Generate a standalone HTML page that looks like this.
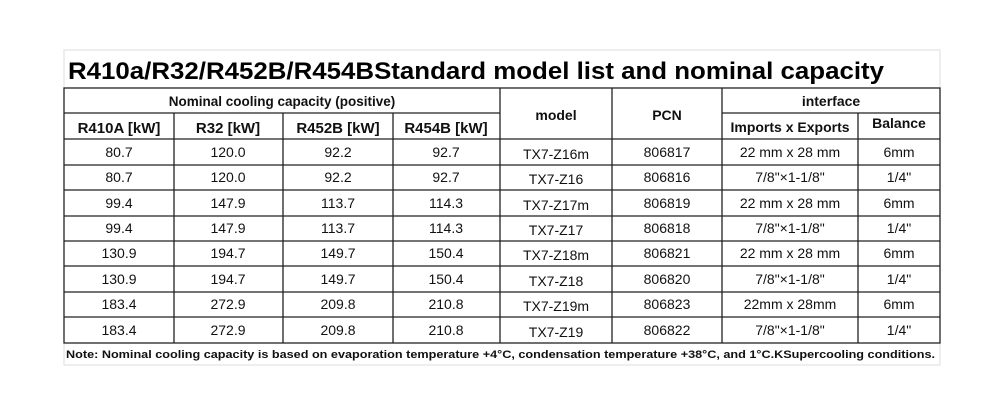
<!DOCTYPE html>
<html><head><style>body{margin:0;background:#fff}svg{display:block}</style></head><body>
<svg width="1000" height="404" xmlns="http://www.w3.org/2000/svg" font-family="Liberation Sans, Arial, sans-serif">
<rect x="64" y="50" width="876" height="315" fill="none" stroke="#ddd" stroke-width="1"/>
<text x="68" y="79" font-size="24" font-weight="bold" textLength="816" lengthAdjust="spacingAndGlyphs">R410a/R32/R452B/R454BStandard model list and nominal capacity</text>
<g stroke="#222" stroke-width="1.3" fill="none">
<rect x="64" y="88" width="876" height="255"/>
<line x1="64" y1="113" x2="500" y2="113"/>
<line x1="722" y1="113" x2="940" y2="113"/>
<line x1="64" y1="139" x2="940" y2="139"/>
<line x1="64" y1="165" x2="940" y2="165"/>
<line x1="64" y1="190" x2="940" y2="190"/>
<line x1="64" y1="216" x2="940" y2="216"/>
<line x1="64" y1="241" x2="940" y2="241"/>
<line x1="64" y1="266" x2="940" y2="266"/>
<line x1="64" y1="292" x2="940" y2="292"/>
<line x1="64" y1="317" x2="940" y2="317"/>
<line x1="174" y1="113" x2="174" y2="343"/>
<line x1="283" y1="113" x2="283" y2="343"/>
<line x1="393" y1="113" x2="393" y2="343"/>
<line x1="500" y1="88" x2="500" y2="343"/>
<line x1="612" y1="88" x2="612" y2="343"/>
<line x1="722" y1="88" x2="722" y2="343"/>
<line x1="858" y1="113" x2="858" y2="343"/>
</g>
<g font-weight="bold" font-size="13.5" text-anchor="middle" fill="#111">
<text x="282" y="106">Nominal cooling capacity (positive)</text>
<text x="119" y="133" font-size="15">R410A [kW]</text>
<text x="228" y="133" font-size="15">R32 [kW]</text>
<text x="338" y="133" font-size="15">R452B [kW]</text>
<text x="446" y="133" font-size="15">R454B [kW]</text>
<text x="556" y="120" font-size="14">model</text>
<text x="667" y="120" font-size="14">PCN</text>
<text x="831" y="106" font-size="14">interface</text>
<text x="790" y="132" font-size="14">Imports x Exports</text>
<text x="899" y="128" font-size="14">Balance</text>
</g>
<g font-size="14" text-anchor="middle" fill="#111">
<g transform="translate(0,157)"><text x="119">80.7</text><text x="228">120.0</text><text x="338">92.2</text><text x="446">92.7</text><text x="556" y="2">TX7-Z16m</text><text x="667">806817</text><text x="790">22 mm x 28 mm</text><text x="899">6mm</text></g>
<g transform="translate(0,182)"><text x="119">80.7</text><text x="228">120.0</text><text x="338">92.2</text><text x="446">92.7</text><text x="556" y="2">TX7-Z16</text><text x="667">806816</text><text x="790">7/8"×1-1/8"</text><text x="899">1/4"</text></g>
<g transform="translate(0,208)"><text x="119">99.4</text><text x="228">147.9</text><text x="338">113.7</text><text x="446">114.3</text><text x="556" y="2">TX7-Z17m</text><text x="667">806819</text><text x="790">22 mm x 28 mm</text><text x="899">6mm</text></g>
<g transform="translate(0,233)"><text x="119">99.4</text><text x="228">147.9</text><text x="338">113.7</text><text x="446">114.3</text><text x="556" y="2">TX7-Z17</text><text x="667">806818</text><text x="790">7/8"×1-1/8"</text><text x="899">1/4"</text></g>
<g transform="translate(0,258)"><text x="119">130.9</text><text x="228">194.7</text><text x="338">149.7</text><text x="446">150.4</text><text x="556" y="2">TX7-Z18m</text><text x="667">806821</text><text x="790">22 mm x 28 mm</text><text x="899">6mm</text></g>
<g transform="translate(0,284)"><text x="119">130.9</text><text x="228">194.7</text><text x="338">149.7</text><text x="446">150.4</text><text x="556" y="2">TX7-Z18</text><text x="667">806820</text><text x="790">7/8"×1-1/8"</text><text x="899">1/4"</text></g>
<g transform="translate(0,309)"><text x="119">183.4</text><text x="228">272.9</text><text x="338">209.8</text><text x="446">210.8</text><text x="556" y="2">TX7-Z19m</text><text x="667">806823</text><text x="790">22mm x 28mm</text><text x="899">6mm</text></g>
<g transform="translate(0,335)"><text x="119">183.4</text><text x="228">272.9</text><text x="338">209.8</text><text x="446">210.8</text><text x="556" y="2">TX7-Z19</text><text x="667">806822</text><text x="790">7/8"×1-1/8"</text><text x="899">1/4"</text></g>
</g>
<text x="66" y="358" font-size="11" font-weight="bold" fill="#111" textLength="869" lengthAdjust="spacingAndGlyphs">Note: Nominal cooling capacity is based on evaporation temperature +4°C, condensation temperature +38°C, and 1°C.KSupercooling conditions.</text>
</svg>
</body></html>
